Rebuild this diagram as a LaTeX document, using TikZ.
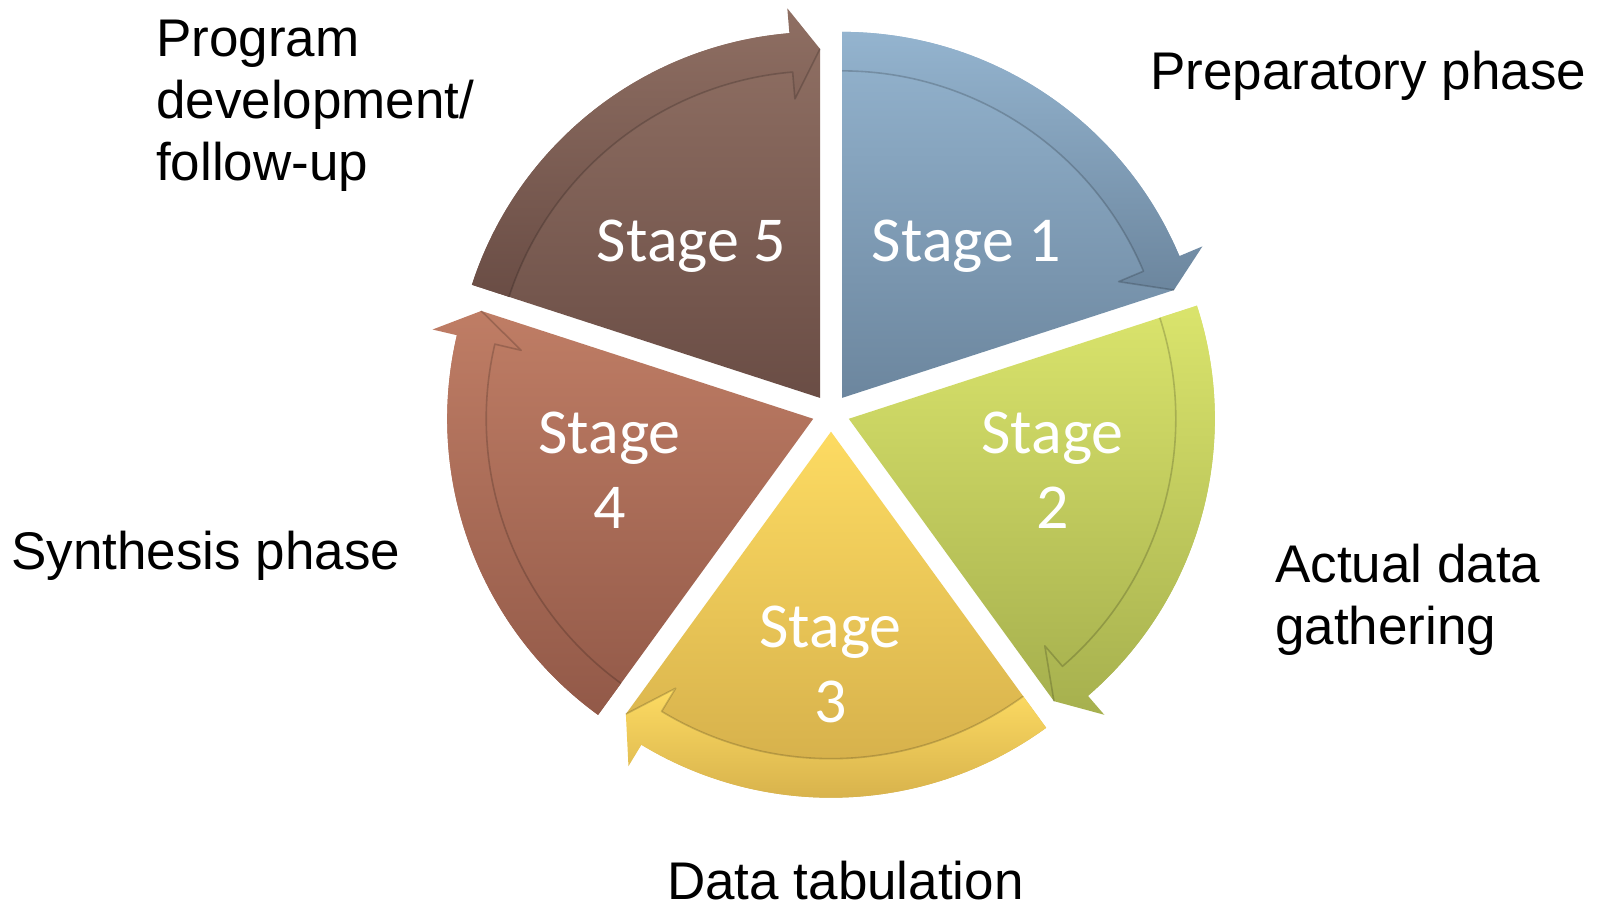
\documentclass[tikz,border=0pt]{standalone}
\usepackage{fontspec}
\newfontfamily\stagefont{Carlito}
\newfontfamily\labelfont{Liberation Sans}
\definecolor{sOneT}{RGB}{148,180,207}
\definecolor{sOneB}{RGB}{108,134,158}
\definecolor{sTwoT}{RGB}{218,228,108}
\definecolor{sTwoB}{RGB}{166,176,78}
\definecolor{sThreeT}{RGB}{253,219,98}
\definecolor{sThreeB}{RGB}{208,170,72}
\definecolor{sFourT}{RGB}{191,125,101}
\definecolor{sFourB}{RGB}{146,89,72}
\definecolor{sFiveT}{RGB}{143,111,99}
\definecolor{sFiveB}{RGB}{106,77,69}
\tikzset{
  seamline/.style={draw=black,draw opacity=0.18,line width=1.6pt,line join=round},
  stagetext/.style={text=white,inner sep=0pt,anchor=base,font=\stagefont\fontsize{64}{75}\selectfont},
  phaselabel/.style={text=black,inner sep=0pt,anchor=base west,font=\labelfont\fontsize{53}{62}\selectfont}
}
\newcommand\wedgeseg[4]{%
  \begin{scope}[shift={(#1)}]
    \pgfmathsetmacro\segend{#2-72}
    \pgfmathsetmacro\segbarb{#2-72+4.8}
    \shade[top color=#3,bottom color=#4]
      (0,0) -- (#2:366) arc[start angle=#2,end angle=\segbarb,radius=366]
      -- (\segend:349) -- cycle;
    \shade[top color=#3,bottom color=#4]
      (#2:327) -- (#2:366) arc[start angle=#2,end angle=\segbarb,radius=366]
      -- (\segbarb:391) -- (\segend:349) -- (\segbarb:300) -- (\segbarb:327)
      arc[start angle=\segbarb,end angle=#2,radius=327] -- cycle;
    \draw[seamline] (#2:327) arc[start angle=#2,end angle=\segbarb,radius=327]
      -- (\segbarb:300) -- (\segend:349);
  \end{scope}}
\begin{document}
\begin{tikzpicture}[x=1pt,y=1pt]
\fill[white] (0,0) rectangle (1598,907);
\useasboundingbox (0,0) rectangle (1598,907);
\coordinate (a1) at (842.0,509.1);
\coordinate (a2) at (848.8,488.2);
\coordinate (a3) at (831.0,475.3);
\coordinate (a4) at (813.2,488.2);
\coordinate (a5) at (820.0,509.1);
\wedgeseg{a1}{90}{sOneT}{sOneB}
\wedgeseg{a2}{18}{sTwoT}{sTwoB}
\wedgeseg{a3}{-54}{sThreeT}{sThreeB}
\wedgeseg{a4}{-126}{sFourT}{sFourB}
\wedgeseg{a5}{162}{sFiveT}{sFiveB}
\node[stagetext] (t1) at (966.5,645) {Stage 1};
\node[stagetext] (t5) at (691.5,645) {Stage 5};
\node[stagetext] (t2) at (1052.5,453) {\vtop{\baselineskip=75pt\hbox to 0pt{\hss Stage\hss}\hbox to 0pt{\hss 2\hss}}};
\node[stagetext] (t3) at (830.5,259) {\vtop{\baselineskip=75pt\hbox to 0pt{\hss Stage\hss}\hbox to 0pt{\hss 3\hss}}};
\node[stagetext] (t4) at (609.5,453) {\vtop{\baselineskip=75pt\hbox to 0pt{\hss Stage\hss}\hbox to 0pt{\hss 4\hss}}};
\node[phaselabel] (l1) at (1150,817) {Preparatory phase};
\node[phaselabel] (l2) at (1275,324) {\vtop{\baselineskip=62pt\hbox{Actual data}\hbox{gathering}}};
\node[phaselabel] (l3) at (667,7) {Data tabulation};
\node[phaselabel] (l4) at (11,337) {Synthesis phase};
\node[phaselabel] (l5) at (156,850) {\vtop{\baselineskip=62pt\hbox{Program}\hbox{development/}\hbox{follow-up}}};
\end{tikzpicture}
\end{document}
